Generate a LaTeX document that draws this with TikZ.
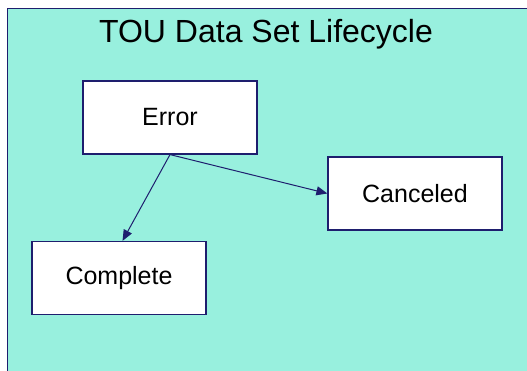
\documentclass[tikz,border=0pt]{standalone}
\usepackage{fontspec}
\setmainfont{Liberation Sans}
\usetikzlibrary{arrows.meta,calc}
\definecolor{bgc}{RGB}{152,240,222}
\definecolor{navy}{RGB}{30,30,110}
\begin{document}
\begin{tikzpicture}[x=1pt,y=-1pt,
  statebox/.style={draw=navy,line width=1.2pt,fill=white,minimum width=174pt,minimum height=73pt,inner sep=0pt,font=\fontsize{25}{29}\selectfont},
  trans/.style={draw=navy,line width=1pt,-{Triangle[length=11pt,width=9pt]}}]
\useasboundingbox (0,0) rectangle (527,371);
\begin{scope}
\clip (0,0) rectangle (527,371);
\draw[draw=navy,line width=1pt,fill=bgc] (7,9) rectangle (560,400);
\end{scope}
\node[font=\fontsize{32}{37}\selectfont] (title) at (266,34) {TOU Data Set Lifecycle};
\node[statebox] (err) at (170,117.5) {Error};
\node[statebox] (can) at (415,193.5) {Canceled};
\node[statebox] (comp) at (119,278) {Complete};
\draw[trans] (err.south) -- ($(comp.north west)!0.52!(comp.north east)$);
\draw[trans] (err.south) -- (can.west);
\end{tikzpicture}
\end{document}
